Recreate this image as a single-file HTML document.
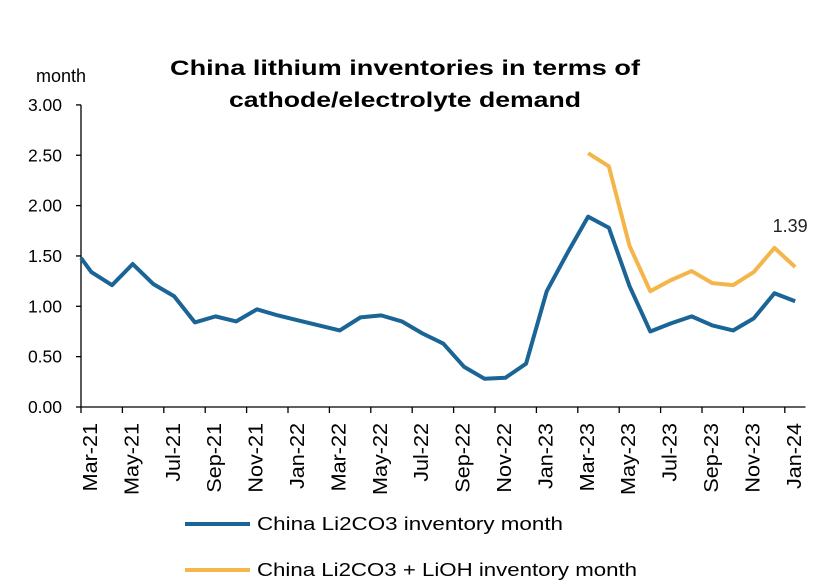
<!DOCTYPE html>
<html><head><meta charset="utf-8"><style>
html,body{margin:0;padding:0;background:#fff;}
svg{display:block;font-family:"Liberation Sans",Arial,sans-serif;}
</style></head><body>
<svg id="chart" width="836" height="585" viewBox="0 0 836 585">
<text x="405" y="75" text-anchor="middle" font-size="21" font-weight="bold" fill="#000" textLength="470" lengthAdjust="spacingAndGlyphs">China lithium inventories in terms of</text>
<text x="405" y="107" text-anchor="middle" font-size="21" font-weight="bold" fill="#000" textLength="352" lengthAdjust="spacingAndGlyphs">cathode/electrolyte demand</text>
<text x="36" y="82" font-size="18" fill="#000">month</text>
<g id="axes"></g>
<g id="series"></g>
<g>
<line x1="185" y1="524" x2="250" y2="524" stroke="#1a6496" stroke-width="4"/>
<text x="257" y="530" font-size="18" fill="#000" textLength="306" lengthAdjust="spacingAndGlyphs">China Li2CO3 inventory month</text>
<line x1="185" y1="570" x2="250" y2="570" stroke="#f4b54a" stroke-width="4"/>
<text x="257" y="576" font-size="18" fill="#000" textLength="380" lengthAdjust="spacingAndGlyphs">China Li2CO3 + LiOH inventory month</text>
</g>
</svg>
<script>
const monthLabels = ["Mar-21","May-21","Jul-21","Sep-21","Nov-21","Jan-22","Mar-22","May-22","Jul-22","Sep-22","Nov-22","Jan-23","Mar-23","May-23","Jul-23","Sep-23","Nov-23","Jan-24"];
const yTicks = [0,0.5,1,1.5,2,2.5,3];
const blueT = [0,0.5,1.5,2.5,3.5,4.5,5.5,6.5,7.5,8.5,9.5,10.5,11.5,12.5,13.5,14.5,15.5,16.5,17.5,18.5,19.5,20.5,21.5,22.5,23.5,24.5,25.5,26.5,27.5,28.5,29.5,30.5,31.5,32.5,33.5,34.5];
const blueV = [1.48,1.34,1.21,1.42,1.22,1.10,0.84,0.90,0.85,0.97,0.91,0.86,0.81,0.76,0.89,0.91,0.85,0.73,0.63,0.40,0.28,0.29,0.43,1.15,1.53,1.89,1.78,1.20,0.75,0.83,0.90,0.81,0.76,0.88,1.13,1.05];
const orangeT = [24.5,25.5,26.5,27.5,28.5,29.5,30.5,31.5,32.5,33.5,34.5];
const orangeV = [2.52,2.39,1.60,1.15,1.26,1.35,1.23,1.21,1.34,1.58,1.39];
const lastLabel = "1.39";

const NS="http://www.w3.org/2000/svg";
const x0=81, dx=20.7, y0=407, yScale=100.7;
const X=t=>x0+t*dx, Y=v=>y0-v*yScale;
function mk(tag,attrs,parent){const e=document.createElementNS(NS,tag);for(const k in attrs)e.setAttribute(k,attrs[k]);parent.appendChild(e);return e;}
const axes=document.getElementById('axes'), ser=document.getElementById('series');
const yAxis=mk('line',{x1:x0,y1:Y(3),x2:x0,y2:y0,stroke:'#000','stroke-width':1.3},axes);


const xAxis=mk('line',{x1:x0,y1:y0,x2:X(35),y2:y0,stroke:'#000','stroke-width':1.3},axes);


yTicks.forEach(v=>{
  const t=mk('line',{x1:x0-5,y1:Y(v),x2:x0,y2:Y(v),stroke:'#000','stroke-width':1.3},axes);
  
  
  const l=mk('text',{x:x0-19,y:Y(v)+6,'text-anchor':'end','font-size':17.5,fill:'#000'},axes);
  l.textContent=v.toFixed(2);
  
  
});
monthLabels.forEach((m,i)=>{
  const xx=X(i*2);
  const t=mk('line',{x1:xx,y1:y0,x2:xx,y2:y0+6,stroke:'#000','stroke-width':1.3},axes);
  
  
  const l=mk('text',{x:0,y:0,'text-anchor':'end','font-size':20,fill:'#000',transform:`translate(${xx+16},${y0+16}) rotate(-90) scale(1.08,1)`},axes);
  l.textContent=m;
  
  
});
function line(ts,vs,color,name){
  const p=mk('polyline',{points:ts.map((t,i)=>X(t)+','+Y(vs[i])).join(' '),fill:'none',stroke:color,'stroke-width':4,'stroke-linejoin':'round'},ser);
  
  
}
line(orangeT,orangeV,'#f4b54a','series-li2co3-lioh');
line(blueT,blueV,'#1a6496','series-li2co3');
const dl=mk('text',{x:X(orangeT[orangeT.length-1])-5,y:Y(orangeV[orangeV.length-1])-35,'text-anchor':'middle','font-size':18,fill:'#222'},ser);
dl.textContent=lastLabel;


</script>
</body></html>
